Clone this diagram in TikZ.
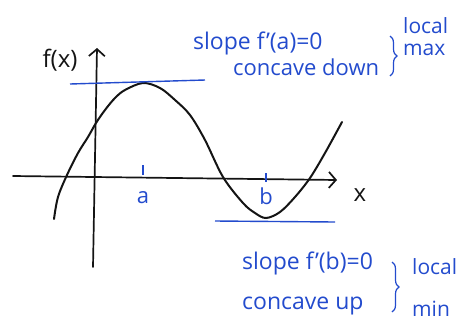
\documentclass[tikz,border=0pt]{standalone}
\usepackage{fontspec}
\setmainfont{Open Sans}
\usetikzlibrary{positioning, arrows.meta, decorations.pathreplacing}
\definecolor{PenBlue}{RGB}{35,75,205}
\definecolor{PenBlack}{RGB}{20,20,20}

\begin{document}
\begin{tikzpicture}[x=1pt, y=-1pt,
      axis/.style={draw=PenBlack, line width=1.7pt, line cap=round,
                   -{Straight Barb[length=7pt, width=16pt]}},
      graph/.style={draw=PenBlack, line width=2pt, line cap=round},
      tangent/.style={draw=PenBlue, line width=1.4pt},
      tickmark/.style={draw=PenBlue, line width=1.2pt},
      bracemark/.style={draw=PenBlue, line width=1.2pt,
                   decorate, decoration={brace, amplitude=7pt}},
      note/.style={text=PenBlue, font=\fontsize{23}{26}\selectfont,
                   anchor=west, inner sep=0pt},
      side/.style={text=PenBlue, font=\fontsize{21}{22}\selectfont,
                   anchor=west, inner sep=0pt, align=left},
      axlabel/.style={text=PenBlack, font=\fontsize{24}{26}\selectfont, inner sep=0pt}
    ]
    \useasboundingbox (0,0) rectangle (460,325);

    % Axes
    \coordinate (xstart) at (13,176);
    \coordinate (xend)   at (337,180);
    \coordinate (ystart) at (93,267);
    \coordinate (yend)   at (97,48);
    \draw[axis] (xstart) -- (xend);
    \draw[axis] (ystart) -- (yend);
    \node[axlabel] (fx)   at (60,60)  {f(x)};
    \node[axlabel] (xlab) at (360,195) {x};

    % Curve
    \draw[graph] plot[smooth, tension=0.55] coordinates {
      (54,219) (58,197) (67,175) (78,153) (88,137) (96,123) (105,110)
      (115,98) (125,90) (143,83) (160,88) (175,100) (190,115) (205,140)
      (223,177) (243,203) (255,213) (266,218) (280,212) (295,197)
      (310,178) (325,153) (342,122)};

    % Ticks a and b
    \coordinate (ta) at (143,165);
    \coordinate (tb) at (266,173);
    \draw[tickmark] (ta) -- ++(0,10);
    \draw[tickmark] (tb) -- ++(0,9);
    \node[text=PenBlue, font=\fontsize{22}{24}\selectfont, inner sep=0pt] (alab) at (143,198) {a};
    \node[text=PenBlue, font=\fontsize{22}{24}\selectfont, inner sep=0pt] (blab) at (266,196) {b};

    % Tangent lines
    \coordinate (maxl) at (70,84);
    \coordinate (maxr) at (205,80);
    \coordinate (minl) at (215,221);
    \coordinate (minr) at (335,222);
    \draw[tangent] (maxl) -- (maxr);
    \draw[tangent] (minl) -- (minr);

    % Local max notes
    \node[note] (slopea)   at (193,43) {slope f'(a)=0};
    \node[note, font=\fontsize{22}{26}\selectfont] (concdown) at (233,67) {concave down};
    \coordinate (bmaxtop) at (390,36);
    \coordinate (bmaxbot) at (390,76);
    \draw[bracemark] (bmaxtop) -- (bmaxbot);
    \node[side] (localmax) at (403,37) {local\\max};

    % Local min notes
    \node[note] (slopeb) at (242,263) {slope f'(b)=0};
    \node[note] (concup) at (242,306) {concave up};
    \coordinate (bmintop) at (392,262);
    \coordinate (bminbot) at (392,312);
    \draw[bracemark] (bmintop) -- (bminbot);
    \node[side, font=\fontsize{21}{42}\selectfont] (localmin) at (412,288) {local\\min};
  \end{tikzpicture}
\end{document}
